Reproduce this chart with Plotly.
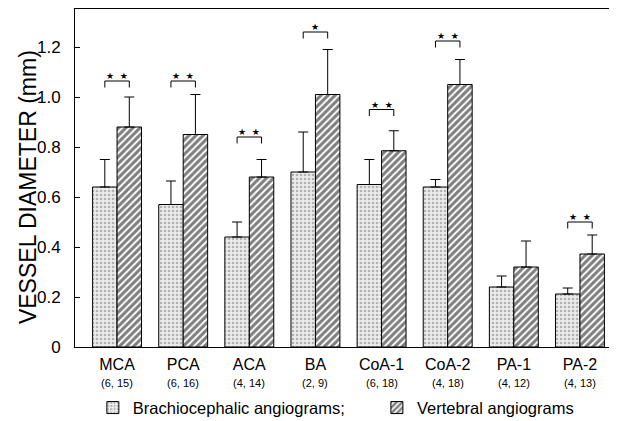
import plotly.graph_objects as go

categories = ["MCA", "PCA", "ACA", "BA", "CoA-1", "CoA-2", "PA-1", "PA-2"]
counts = ["(6, 15)", "(6, 16)", "(4, 14)", "(2, 9)", "(6, 18)", "(4, 18)", "(4, 12)", "(4, 13)"]
brachio = [0.64, 0.57, 0.44, 0.70, 0.65, 0.64, 0.24, 0.212]
brachio_sd = [0.11, 0.094, 0.06, 0.16, 0.10, 0.03, 0.044, 0.024]
vertebral = [0.88, 0.85, 0.68, 1.01, 0.785, 1.05, 0.32, 0.372]
vertebral_sd = [0.12, 0.16, 0.07, 0.18, 0.08, 0.10, 0.104, 0.076]
sig_marks = ["★\u00a0\u00a0★", "★\u00a0\u00a0★", "★\u00a0\u00a0★", "★", "★\u00a0\u00a0★", "★\u00a0\u00a0★", "", "★\u00a0\u00a0★"]
sig_level = [1.064, 1.064, 0.84, 1.26, 0.95, 1.224, None, 0.50]
y_ticks = [0, 0.2, 0.4, 0.6, 0.8, 1.0, 1.2]
y_ticktext = ["0", "0.2", "0.4", "0.6", "0.8", "1.0", "1.2"]

FONT = "Liberation Sans"
xs = list(range(len(categories)))
bargap = 0.26
off = (1 - bargap) / 4

fig = go.Figure()
fig.add_trace(go.Bar(
    x=xs, y=brachio, name="Brachiocephalic angiograms;",
    marker=dict(color="#ececec", line=dict(color="black", width=1),
                pattern=dict(shape=".", fgcolor="#777777", bgcolor="#ececec", size=4, solidity=0.35)),
    error_y=dict(type="data", array=brachio_sd, arrayminus=[0] * len(brachio), symmetric=False,
                 color="black", thickness=1, width=5),
    legend="legend",
))
fig.add_trace(go.Bar(
    x=xs, y=vertebral, name="Vertebral angiograms",
    marker=dict(color="white", line=dict(color="black", width=1),
                pattern=dict(shape="/", fgcolor="black", bgcolor="white", size=5, solidity=0.62)),
    error_y=dict(type="data", array=vertebral_sd, arrayminus=[0] * len(vertebral), symmetric=False,
                 color="black", thickness=1, width=5),
    legend="legend2",
))

for i, (m, lvl) in enumerate(zip(sig_marks, sig_level)):
    if lvl is None or not m:
        continue
    x0, x1 = i - off, i + off
    leg = lvl - 0.026
    fig.add_shape(type="path", xref="x", yref="y",
                  path=f"M {x0} {leg} L {x0} {lvl} L {x1} {lvl} L {x1} {leg}",
                  line=dict(color="black", width=1))
    fig.add_annotation(x=i, y=lvl, xref="x", yref="y", text=m, showarrow=False,
                       yanchor="bottom", yshift=-2, font=dict(family="DejaVu Sans", size=9, color="black"))

for i, c in enumerate(counts):
    fig.add_annotation(x=i, y=-0.13, xref="x", yref="paper", text=c, showarrow=False,
                       font=dict(family=FONT, size=11, color="black"))

fig.add_annotation(x=-0.087, y=0.473, xref="paper", yref="paper", text="VESSEL DIAMETER (mm)",
                   textangle=-90, showarrow=False, xanchor="center", yanchor="middle",
                   font=dict(family=FONT, size=23, color="black"))

fig.update_layout(
    width=609, height=413,
    margin=dict(l=67, r=1, t=1, b=74, autoexpand=False),
    paper_bgcolor="white", plot_bgcolor="white",
    barmode="group", bargap=bargap, bargroupgap=0,
    font=dict(family=FONT, color="black"),
    modebar=dict(bgcolor="rgba(0,0,0,0)", color="rgba(0,0,0,0)", activecolor="rgba(0,0,0,0)"),
    legend=dict(x=0.033, y=-0.18, xanchor="left", yanchor="middle", orientation="h",
                font=dict(family=FONT, size=16.5, color="black"), bgcolor="rgba(0,0,0,0)"),
    legend2=dict(x=0.558, y=-0.18, xanchor="left", yanchor="middle", orientation="h",
                 font=dict(family=FONT, size=16.5, color="black"), bgcolor="rgba(0,0,0,0)"),
    showlegend=True,
)
fig.update_xaxes(range=[-0.636, 7.545], tickvals=xs, ticktext=categories,
                 showline=True, linecolor="black", linewidth=1, mirror=True,
                 ticks="", showgrid=False, zeroline=False, ticklabelstandoff=3,
                 tickfont=dict(family=FONT, size=16, color="black"))
fig.update_yaxes(range=[0, 1.352], tickvals=y_ticks, ticktext=y_ticktext,
                 showline=True, linecolor="black", linewidth=1,
                 ticks="inside", ticklen=5, tickcolor="black", ticklabelstandoff=10,
                 showgrid=False, zeroline=False,
                 tickfont=dict(family=FONT, size=17, color="black"))

fig.write_html("out.html")
